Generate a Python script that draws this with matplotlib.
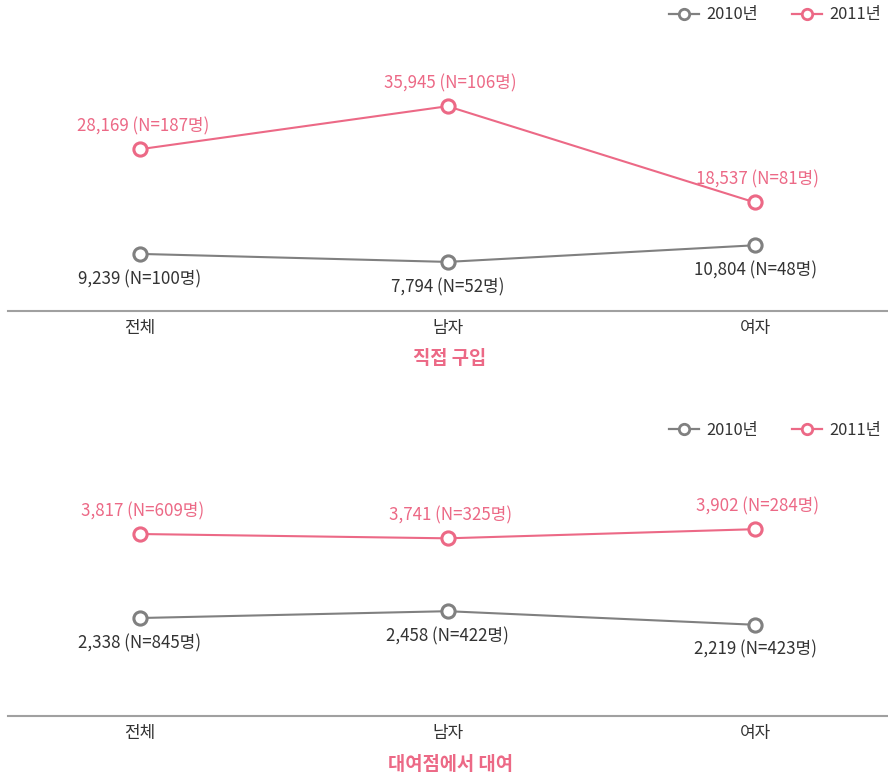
import matplotlib.pyplot as plt
from matplotlib.lines import Line2D

plt.rcParams['font.family'] = ['Noto Sans CJK KR', 'DejaVu Sans']

groups = ["전체", "남자", "여자"]
years = ["2010년", "2011년"]

# 직접 구입
buy_2010 = [9239, 7794, 10804]
buy_2010_n = [100, 52, 48]
buy_2011 = [28169, 35945, 18537]
buy_2011_n = [187, 106, 81]

# 대여점에서 대여
rent_2010 = [2338, 2458, 2219]
rent_2010_n = [845, 422, 423]
rent_2011 = [3817, 3741, 3902]
rent_2011_n = [609, 325, 284]

gray = "#808080"
pink = "#ec6986"
text_gray = "#333333"

W, H = 888, 777
fig = plt.figure(figsize=(W / 100, H / 100), dpi=100)


def add_panel(top_px, bottom_px, ylim, v2010, n2010, v2011, n2011, title, title_px, legend_px):
    ax = fig.add_axes([8 / W, 1 - bottom_px / H, 880 / W, (bottom_px - top_px) / H])
    x = range(len(groups))
    ax.plot(x, v2010, color=gray, lw=1.5, marker="o", ms=9.5, mfc="white", mec=gray, mew=2.2,
            label=years[0], zorder=3)
    ax.plot(x, v2011, color=pink, lw=1.5, marker="o", ms=9.5, mfc="white", mec=pink, mew=2.2,
            label=years[1], zorder=3)
    for i in x:
        ax.annotate(f"{v2011[i]:,} (N={n2011[i]}명)", (i, v2011[i]), xytext=(2, 16.5),
                    textcoords="offset points", ha="center", va="center",
                    color=pink, fontsize=12.2, fontweight="light")
        ax.annotate(f"{v2010[i]:,} (N={n2010[i]}명)", (i, v2010[i]), xytext=(0, -18),
                    textcoords="offset points", ha="center", va="center",
                    color=text_gray, fontsize=12.2, fontweight="light")
    ax.set_xlim(-0.429, 2.432)
    ax.set_ylim(*ylim)
    for s in ["top", "left", "right"]:
        ax.spines[s].set_visible(False)
    ax.spines["bottom"].set_color("#a0a0a0")
    ax.spines["bottom"].set_linewidth(1.5)
    ax.set_yticks([])
    ax.set_xticks(list(x))
    ax.set_xticklabels(groups, fontsize=12.2, color=text_gray, fontweight="light")
    ax.tick_params(axis="x", length=0, pad=5.5)
    fig.text(450 / W, 1 - title_px / H, title, ha="center", va="center",
             color=pink, fontsize=13.5, fontweight="bold")
    handles = [
        Line2D([], [], color=gray, lw=1.6, marker="o", ms=7.5, mfc="white", mec=gray, mew=2),
        Line2D([], [], color=pink, lw=1.6, marker="o", ms=7.5, mfc="white", mec=pink, mew=2),
    ]
    fig.legend(handles, years, loc="center right", bbox_to_anchor=(881 / W, 1 - legend_px / H),
               ncol=2, frameon=False, fontsize=11.8, handlelength=1.8, columnspacing=2.1,
               handletextpad=0.45, borderpad=0, borderaxespad=0, labelcolor=text_gray)
    return ax


add_panel(40, 311, (-1085, 47920), buy_2010, buy_2010_n, buy_2011, buy_2011_n,
          "직접 구입", 358, 15)
add_panel(445, 716, (613, 5384), rent_2010, rent_2010_n, rent_2011, rent_2011_n,
          "대여점에서 대여", 765, 430)

fig.savefig("out.png", dpi=100)
